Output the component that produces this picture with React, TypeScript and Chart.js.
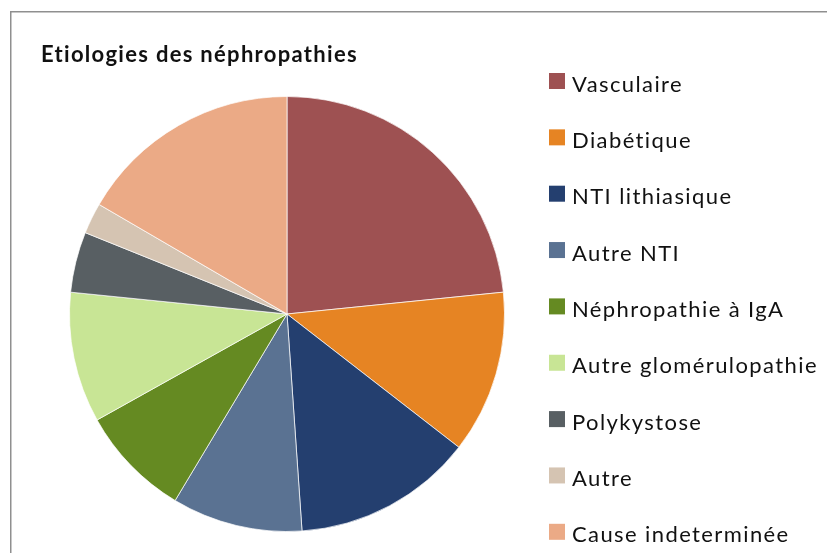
import React, { useEffect, useRef } from "react";
import { Chart, registerables } from "chart.js";

Chart.register(...registerables);

const chartTitle = "Etiologies des néphropathies";
const categories = [
  "Vasculaire",
  "Diabétique",
  "NTI lithiasique",
  "Autre NTI",
  "Néphropathie à IgA",
  "Autre glomérulopathie",
  "Polykystose",
  "Autre",
  "Cause indeterminée",
];
const values = [23.4, 12.1, 13.4, 9.7, 8.3, 9.7, 4.5, 2.3, 16.6];
const colors = [
  "#9E5152",
  "#E68423",
  "#243F6F",
  "#5A7292",
  "#658A22",
  "#C8E595",
  "#585F63",
  "#D5C4B2",
  "#EBAA86",
];

const FONT = "Lato, 'Open Sans', sans-serif";

const overlayPlugin = {
  id: "overlay",
  afterDraw(chart: any) {
    const ctx = chart.ctx as any;
    ctx.save();
    // frame
    ctx.strokeStyle = "#8f8f8f";
    ctx.lineWidth = 1.5;
    ctx.beginPath();
    ctx.moveTo(10.75, 553);
    ctx.lineTo(10.75, 11.75);
    ctx.lineTo(827, 11.75);
    ctx.stroke();
    // title
    ctx.fillStyle = "#111";
    ctx.textAlign = "left";
    ctx.textBaseline = "alphabetic";
    ctx.letterSpacing = "1.3px";
    ctx.font = `bold 22px ${FONT}`;
    ctx.fillText(chartTitle, 41, 62);
    // legend
    ctx.font = `22px ${FONT}`;
    ctx.letterSpacing = "1.4px";
    const meta = chart.getDatasetMeta(0);
    categories.forEach((label, i) => {
      const y = 91.5 + i * 56.35;
      const bg = meta.data[i]?.options?.backgroundColor ?? colors[i];
      ctx.fillStyle = bg;
      ctx.fillRect(549, y - 18.5, 16, 16);
      ctx.fillStyle = "#111";
      ctx.fillText(label, 572, y);
    });
    ctx.restore();
  },
};

export default function App() {
  const ref = useRef<HTMLCanvasElement | null>(null);
  useEffect(() => {
    if (!ref.current) return;
    const chart = new Chart(ref.current, {
      type: "pie",
      data: {
        labels: categories,
        datasets: [
          {
            data: values,
            backgroundColor: colors,
            borderColor: "rgba(255,255,255,0.7)",
            borderWidth: 1,
          },
        ],
      },
      options: {
        responsive: false,
        animation: false,
        layout: { padding: { top: 96, bottom: 21, left: 69, right: 322 } },
        plugins: {
          legend: { display: false },
          title: { display: false },
          tooltip: { enabled: false },
        },
      },
      plugins: [overlayPlugin],
    });
    return () => chart.destroy();
  }, []);
  return (
    <div style={{ position: "absolute", left: 0, top: 0, width: 827, height: 553, background: "#fff" }}>
      <canvas ref={ref} width={827} height={553} />
    </div>
  );
}
